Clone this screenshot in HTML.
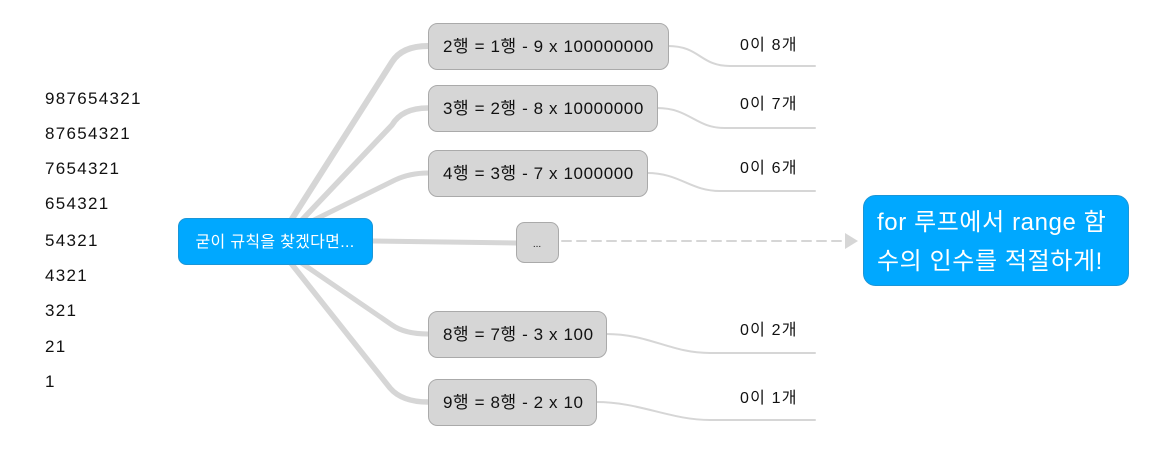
<!DOCTYPE html>
<html><head><meta charset="utf-8"><style>
body{margin:0;background:#fff;}
svg text{font-family:"Liberation Sans","Noto Sans CJK KR",sans-serif;}
</style></head><body>
<svg width="1150" height="446" viewBox="0 0 1150 446" xmlns="http://www.w3.org/2000/svg">
<g fill="#111" font-size="17" letter-spacing="1.3">
<text x="45" y="104">987654321</text>
<text x="45" y="139">87654321</text>
<text x="45" y="174">7654321</text>
<text x="45" y="209">654321</text>
<text x="45" y="246">54321</text>
<text x="45" y="281">4321</text>
<text x="45" y="316">321</text>
<text x="45" y="352">21</text>
<text x="45" y="387">1</text>
</g>
<g fill="none" stroke="#d6d6d6" stroke-linecap="round">
<path d="M290 222 L392 62 Q402 46 428 46" stroke-width="6"/>
<path d="M300 222 L392 125 Q402 108 428 108" stroke-width="5.5"/>
<path d="M310 222 L395 180 Q410 173 428 173" stroke-width="5"/>
<path d="M372 241 L516 243" stroke-width="5"/>
<path d="M300 262 L392 325 Q405 334 428 334" stroke-width="5"/>
<path d="M290 262 L390 388 Q402 402 428 402" stroke-width="5.5"/>
<g stroke-width="2">
<path d="M668 46 C700 46 700 66 730 66 L815 66"/>
<path d="M657 108 C690 108 695 128 725 128 L815 128"/>
<path d="M647 173 C680 173 690 191 720 191 L815 191"/>
<path d="M606 334 C650 334 670 353 710 353 L815 353"/>
<path d="M596 402 C640 402 670 420 710 420 L815 420"/>
</g>
<path d="M562 241 L845 241" stroke-width="2" stroke-dasharray="9 6"/>
</g>
<polygon points="845,233 858,241 845,249" fill="#d6d6d6"/>
<rect x="178.5" y="218.5" width="194" height="46" rx="8" fill="#00a8ff" stroke="#1a96d8"/>
<text x="275" y="247" font-size="16" fill="#fff" text-anchor="middle" letter-spacing="0.3">굳이 규칙을 찾겠다면...</text>
<g fill="#d6d6d6" stroke="#aaa">
<rect x="428.5" y="23.5" width="240" height="46" rx="9"/>
<rect x="428.5" y="85.5" width="229" height="46" rx="9"/>
<rect x="428.5" y="150.5" width="219" height="46" rx="9"/>
<rect x="516.5" y="222.5" width="42" height="40" rx="8"/>
<rect x="428.5" y="311.5" width="178" height="46" rx="9"/>
<rect x="428.5" y="379.5" width="168" height="46" rx="9"/>
</g>
<g font-size="17" fill="#111" letter-spacing="0.6">
<text x="443" y="52">2행 = 1행 - 9 x 100000000</text>
<text x="443" y="114">3행 = 2행 - 8 x 10000000</text>
<text x="443" y="179">4행 = 3행 - 7 x 1000000</text>
<text x="537" y="247" font-size="10" text-anchor="middle" letter-spacing="0">...</text>
<text x="443" y="340">8행 = 7행 - 3 x 100</text>
<text x="443" y="408">9행 = 8행 - 2 x 10</text>
<g font-size="16" letter-spacing="1.2">
<text x="740" y="50">0이 8개</text>
<text x="740" y="109">0이 7개</text>
<text x="740" y="173">0이 6개</text>
<text x="740" y="335">0이 2개</text>
<text x="740" y="403">0이 1개</text>
</g>
</g>
<rect x="863.5" y="195.5" width="265" height="90" rx="12" fill="#00a8ff" stroke="#1a96d8"/>
<g font-size="24" fill="#fff" letter-spacing="0.6">
<text x="877" y="230">for 루프에서 range 함</text>
<text x="877" y="269">수의 인수를 적절하게!</text>
</g>
</svg>
</body></html>
